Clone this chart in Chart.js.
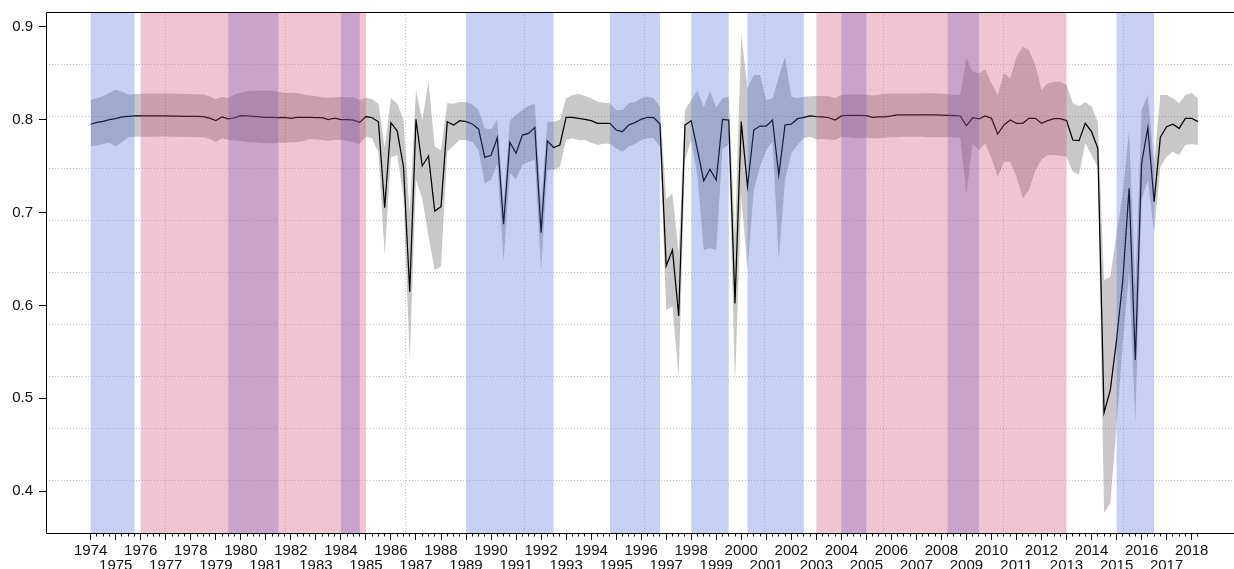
<!DOCTYPE html>
<html>
<head>
<meta charset="utf-8">
<script src="https://cdn.jsdelivr.net/npm/chart.js@4.4.1/dist/chart.umd.min.js"></script>
<style>
  html, body { margin: 0; padding: 0; background: #fff; overflow: hidden; }
  #wrap { width: 1234px; height: 569px; overflow: hidden; position: relative; }
  canvas { display: block; }
</style>
</head>
<body>
<div id="wrap"><canvas id="c" width="1250" height="569" style="width:1250px;height:569px"></canvas></div>
<script>
// ---- data (quarterly, starting 1974 Q1) ----
const startYear = 1974;

const meanValues = [
  0.795, 0.797, 0.798, 0.800, 0.801, 0.803, 0.8035, 0.804, 0.804, 0.804,
  0.804, 0.804, 0.804, 0.8038, 0.8038, 0.8035, 0.8035, 0.8035, 0.8033, 0.8015,
  0.799, 0.803, 0.8007, 0.802, 0.8042, 0.804, 0.8035, 0.803, 0.8025, 0.8025,
  0.802, 0.8025, 0.8012, 0.8025, 0.8025, 0.8025, 0.802, 0.8022, 0.800, 0.8015,
  0.800, 0.800, 0.7995, 0.797, 0.8033, 0.802, 0.7977, 0.7052, 0.7967, 0.7877,
  0.7493, 0.6148, 0.8003, 0.750, 0.7608, 0.7016, 0.7063, 0.7977, 0.7942, 0.7988,
  0.7978, 0.7953, 0.790, 0.7594, 0.7616, 0.7805, 0.6873, 0.7755, 0.7637, 0.7834,
  0.7852, 0.7917, 0.6783, 0.777, 0.770, 0.7727, 0.8025, 0.8025, 0.8014, 0.8003,
  0.7988, 0.796, 0.796, 0.796, 0.7888, 0.787, 0.7942, 0.7967, 0.8003, 0.8025,
  0.8022, 0.7953, 0.6424, 0.6596, 0.5886, 0.7942, 0.7988, 0.7673, 0.734, 0.7465,
  0.735, 0.8003, 0.7995, 0.6022, 0.7978, 0.7278, 0.7888, 0.7931, 0.7931, 0.7995,
  0.7404, 0.7942, 0.795, 0.801, 0.8025, 0.8039, 0.8031, 0.803, 0.802, 0.7996,
  0.8039, 0.8046, 0.8046, 0.8046, 0.8042, 0.8025, 0.803, 0.803, 0.8039, 0.805,
  0.805, 0.805, 0.805, 0.805, 0.805, 0.805, 0.8048, 0.8046, 0.8044, 0.8039,
  0.7935, 0.802, 0.8007, 0.8039, 0.8014, 0.7845, 0.7942, 0.7996, 0.796, 0.796,
  0.8014, 0.8014, 0.796, 0.7989, 0.801, 0.801, 0.7989, 0.778, 0.7773, 0.796,
  0.787, 0.769, 0.4845, 0.509, 0.5628, 0.6273, 0.726, 0.5412, 0.753, 0.7913,
  0.7117, 0.781, 0.7924, 0.795, 0.7906, 0.8014, 0.8014, 0.7978
];

const upperValues = [
  0.821, 0.823, 0.825, 0.829, 0.832, 0.830, 0.827, 0.8275, 0.8278, 0.828,
  0.828, 0.828, 0.828, 0.828, 0.8278, 0.8275, 0.8275, 0.8272, 0.827, 0.825,
  0.822, 0.8247, 0.823, 0.827, 0.829, 0.8305, 0.831, 0.831, 0.831, 0.831,
  0.830, 0.829, 0.829, 0.8285, 0.827, 0.826, 0.825, 0.824, 0.8235, 0.824,
  0.8245, 0.824, 0.824, 0.821, 0.8236, 0.822, 0.817, 0.770, 0.823, 0.817,
  0.800, 0.700, 0.832, 0.799, 0.841, 0.771, 0.767, 0.818, 0.817, 0.819,
  0.819, 0.8165, 0.8103, 0.7906, 0.7895, 0.800, 0.710, 0.799, 0.805, 0.8103,
  0.8147, 0.8168, 0.710, 0.7977, 0.7977, 0.7996, 0.823, 0.8265, 0.8276, 0.8254,
  0.823, 0.8193, 0.8182, 0.8175, 0.8103, 0.8103, 0.8175, 0.819, 0.823, 0.8247,
  0.823, 0.814, 0.714, 0.7207, 0.656, 0.8103, 0.821, 0.8311, 0.8132, 0.8311,
  0.8132, 0.823, 0.8247, 0.674, 0.8928, 0.8337, 0.848, 0.848, 0.821, 0.823,
  0.8462, 0.8677, 0.8247, 0.823, 0.8247, 0.825, 0.8255, 0.8255, 0.825, 0.823,
  0.8265, 0.827, 0.827, 0.827, 0.827, 0.826, 0.827, 0.8275, 0.828, 0.828,
  0.828, 0.828, 0.828, 0.828, 0.8283, 0.8283, 0.828, 0.8275, 0.8265, 0.8265,
  0.866, 0.8516, 0.8498, 0.854, 0.839, 0.8265, 0.8498, 0.8444, 0.8677, 0.8785,
  0.875, 0.8587, 0.8319, 0.839, 0.8408, 0.8408, 0.8372, 0.8175, 0.8147, 0.8186,
  0.814, 0.7978, 0.6273, 0.6309, 0.6776, 0.7209, 0.7888, 0.620, 0.8103, 0.8265,
  0.753, 0.8265, 0.8265, 0.823, 0.8175, 0.8265, 0.829, 0.823
];

const lowerValues = [
  0.771, 0.772, 0.774, 0.775, 0.771, 0.776, 0.781, 0.7815, 0.7815, 0.7815,
  0.7815, 0.7818, 0.7818, 0.7815, 0.7815, 0.7812, 0.7812, 0.781, 0.781, 0.779,
  0.776, 0.780, 0.778, 0.7775, 0.777, 0.776, 0.7755, 0.775, 0.7745, 0.7745,
  0.775, 0.775, 0.7756, 0.776, 0.777, 0.779, 0.7785, 0.778, 0.777, 0.778,
  0.778, 0.777, 0.776, 0.7737, 0.7816, 0.780, 0.764, 0.654, 0.7594, 0.762,
  0.717, 0.541, 0.735, 0.715, 0.674, 0.638, 0.642, 0.7654, 0.7716, 0.778,
  0.778, 0.776, 0.767, 0.7314, 0.735, 0.753, 0.647, 0.7425, 0.736, 0.7511,
  0.7547, 0.7565, 0.638, 0.7458, 0.7458, 0.749, 0.778, 0.7798, 0.778, 0.778,
  0.7751, 0.7727, 0.774, 0.774, 0.769, 0.7654, 0.771, 0.774, 0.778, 0.7798,
  0.7798, 0.771, 0.595, 0.5986, 0.523, 0.7565, 0.778, 0.7386, 0.6596, 0.6614,
  0.6596, 0.769, 0.7727, 0.514, 0.717, 0.638, 0.7242, 0.7493, 0.7673, 0.7762,
  0.649, 0.735, 0.7637, 0.7727, 0.7798, 0.7816, 0.7785, 0.779, 0.7785, 0.778,
  0.7816, 0.781, 0.780, 0.780, 0.7805, 0.7798, 0.780, 0.7805, 0.781, 0.781,
  0.7815, 0.7815, 0.7815, 0.7815, 0.781, 0.781, 0.781, 0.781, 0.781, 0.7805,
  0.7207, 0.7745, 0.7673, 0.7745, 0.7584, 0.7386, 0.7547, 0.7547, 0.7386, 0.7153,
  0.7242, 0.745, 0.757, 0.762, 0.762, 0.761, 0.760, 0.744, 0.741, 0.7745,
  0.7619, 0.749, 0.3762, 0.387, 0.470, 0.560, 0.635, 0.473, 0.7135, 0.735,
  0.6776, 0.749, 0.760, 0.7655, 0.762, 0.7727, 0.7737, 0.7727
];

// quarter positions (categories) for each observation
const quarters = meanValues.map((_, i) => startYear + i / 4);

// shaded periods [start, end] in fractional years
const blueSpans = [
  [1974.0, 1975.75], [1979.5, 1981.5], [1984.0, 1984.75], [1989.0, 1992.5],
  [1994.75, 1996.75], [1998.0, 1999.5], [2000.25, 2002.5], [2004.0, 2005.0],
  [2008.25, 2009.5], [2015.0, 2016.5]
];
const pinkSpans = [[1976.0, 1985.0], [2003.0, 2013.0]];

// tick labels
const yearTicks = [
  1974, 1975, 1976, 1977, 1978, 1979, 1980, 1981, 1982, 1983, 1984, 1985,
  1986, 1987, 1988, 1989, 1990, 1991, 1992, 1993, 1994, 1995, 1996, 1997,
  1998, 1999, 2000, 2001, 2002, 2003, 2004, 2005, 2006, 2007, 2008, 2009,
  2010, 2011, 2012, 2013, 2014, 2015, 2016, 2017, 2018
];
const yTickValues = [0.4, 0.5, 0.6, 0.7, 0.8, 0.9];

const FONT = '"Liberation Sans", Arial, Helvetica, sans-serif';

function alignPx(p) { return Math.round(p - 0.5) + 0.5; }
function noPad(axis) { axis.paddingTop = 0; axis.paddingBottom = 0; axis.paddingLeft = 0; axis.paddingRight = 0; }

const overlayPlugin = {
  id: 'overlay',
  afterDatasetsDraw(chart) {
    const { ctx, chartArea: a, scales: { x } } = chart;
    ctx.save();
    ctx.beginPath();
    ctx.rect(a.left, a.top, a.right - a.left, a.bottom - a.top);
    ctx.clip();
    const draw = (spans, color) => {
      ctx.fillStyle = color;
      spans.forEach(([s, e]) => {
        const x1 = x.getPixelForValue(s), x2 = x.getPixelForValue(e);
        ctx.fillRect(x1, a.top, x2 - x1, a.bottom - a.top);
      });
    };
    draw(blueSpans, 'rgba(70,100,220,0.3)');
    draw(pinkSpans, 'rgba(205,58,98,0.3)');
    ctx.restore();
  },
  afterDraw(chart) {
    const { ctx, chartArea: a, scales: { x } } = chart;
    ctx.save();
    ctx.strokeStyle = '#000';
    ctx.lineWidth = 1;
    const L = alignPx(a.left), R = alignPx(a.right), T = alignPx(a.top), B = alignPx(a.bottom);
    ctx.beginPath();
    ctx.moveTo(L, T); ctx.lineTo(R, T); ctx.lineTo(R, B); ctx.lineTo(L, B); ctx.closePath();
    ctx.stroke();
    // minor (quarter) ticks
    ctx.beginPath();
    quarters.forEach(q => {
      if (Number.isInteger(q)) return;
      const px = alignPx(x.getPixelForValue(q));
      ctx.moveTo(px, a.bottom);
      ctx.lineTo(px, a.bottom + 3.5);
    });
    ctx.stroke();
    ctx.restore();
  }
};

new Chart(document.getElementById('c'), {
  type: 'line',
  data: {
    datasets: [
      {
        label: 'mean',
        data: quarters.map((q, i) => ({ x: q, y: meanValues[i] })),
        borderColor: '#000',
        borderWidth: 1.25,
        pointRadius: 0,
        fill: false,
        tension: 0,
        xAxisID: 'x', yAxisID: 'y'
      },
      {
        label: 'upper',
        data: quarters.map((q, i) => ({ x: q, y: upperValues[i] })),
        borderColor: 'rgba(0,0,0,0)',
        borderWidth: 0,
        pointRadius: 0,
        backgroundColor: 'rgba(0,0,0,0.215)',
        fill: '+1',
        tension: 0,
        xAxisID: 'x', yAxisID: 'y'
      },
      {
        label: 'lower',
        data: quarters.map((q, i) => ({ x: q, y: lowerValues[i] })),
        borderColor: 'rgba(0,0,0,0)',
        borderWidth: 0,
        pointRadius: 0,
        fill: false,
        tension: 0,
        xAxisID: 'x', yAxisID: 'y'
      }
    ]
  },
  options: {
    responsive: false,
    animation: false,
    devicePixelRatio: 1,
    layout: { padding: { left: 0, right: 7, top: 12, bottom: 0 } },
    plugins: { legend: { display: false }, tooltip: { enabled: false } },
    scales: {
      x: {
        type: 'linear',
        position: 'bottom',
        min: 1972.213,
        max: 2020.053,
        afterBuildTicks: (axis) => { axis.ticks = yearTicks.map(v => ({ value: v })); },
        afterFit: (axis) => { axis.height = 36; noPad(axis); },
        grid: { display: true, drawOnChartArea: false, drawTicks: true, tickLength: 7, tickColor: '#000', tickWidth: 1 },
        border: { display: false },
        ticks: {
          autoSkip: false,
          maxRotation: 0,
          minRotation: 0,
          padding: 3,
          color: '#111',
          font: { family: FONT, size: 15, lineHeight: 1.0 },
          callback: (value) => {
            const yv = Math.round(value);
            return (yv % 2 === 0) ? [String(yv)] : ['', String(yv)];
          }
        }
      },
      x2: {
        type: 'linear',
        position: 'top',
        min: 0, max: 10,
        afterFit: (axis) => { axis.height = 0; noPad(axis); },
        grid: { display: true, drawOnChartArea: true, drawTicks: false, color: 'rgba(0,0,0,0.22)', lineWidth: 1 },
        border: { display: false, dash: [1, 2] },
        ticks: { display: false, stepSize: 1 }
      },
      y: {
        type: 'linear',
        position: 'left',
        min: 0.35502,
        max: 0.91582,
        afterBuildTicks: (axis) => { axis.ticks = yTickValues.map(v => ({ value: v })); },
        afterFit: (axis) => { axis.width = 46; noPad(axis); },
        grid: { display: true, drawOnChartArea: false, drawTicks: true, tickLength: 7, tickColor: '#000', tickWidth: 1 },
        border: { display: false },
        ticks: {
          padding: 6,
          color: '#111',
          font: { family: FONT, size: 15 },
          callback: (v) => Number(v).toFixed(1)
        }
      },
      y2: {
        type: 'linear',
        position: 'right',
        min: 0, max: 1,
        afterFit: (axis) => { axis.width = 0; noPad(axis); },
        grid: { display: true, drawOnChartArea: true, drawTicks: false, color: 'rgba(0,0,0,0.22)', lineWidth: 1 },
        border: { display: false, dash: [1, 2] },
        ticks: { display: false, stepSize: 0.1 }
      }
    }
  },
  plugins: [overlayPlugin]
});
</script>
</body>
</html>
